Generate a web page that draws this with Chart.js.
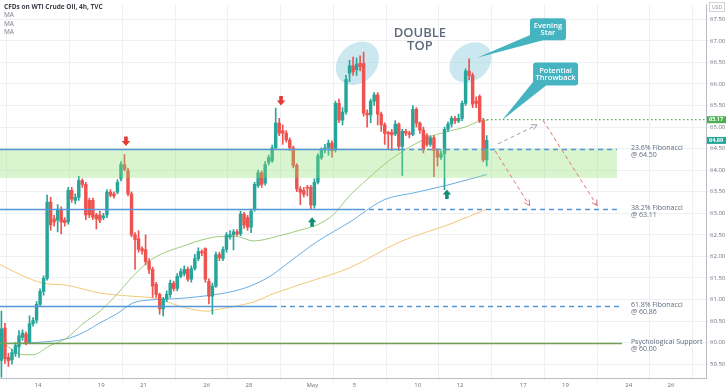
<!DOCTYPE html>
<html>
<head>
<meta charset="utf-8">
<script src="https://cdn.jsdelivr.net/npm/chart.js@4.4.0/dist/chart.umd.min.js"></script>
<style>
  html, body { margin: 0; padding: 0; background: #fff; }
  #wrap { width: 728px; height: 391px; }
</style>
</head>
<body>
<div id="wrap"><canvas id="chart" width="728" height="391"></canvas></div>
<script>
// ---- data (4h candles, WTI) ----
const opens = [
  59.59, 60.34, 59.66, 59.60, 59.75, 59.90, 60.12, 60.20, 60.02, 60.44,
  60.52, 60.89, 61.19, 61.49, 63.26, 62.87, 62.84, 63.07, 62.84, 62.80,
  63.53, 63.30, 63.37, 63.76, 63.67, 63.30, 63.30, 62.96, 62.96, 62.90,
  62.96, 63.49, 63.45, 63.49, 63.81, 64.13, 63.99, 63.45, 62.50, 62.41,
  62.18, 62.16, 61.88, 61.70, 61.35, 61.12, 60.78, 61.01, 61.12, 61.38,
  61.26, 61.54, 61.60, 61.70, 61.47, 61.72, 61.95, 62.11, 62.18, 61.42,
  61.08, 61.31, 62.04, 61.95, 62.16, 62.45, 62.50, 62.57, 62.52, 62.98,
  62.90, 62.68, 63.10, 63.64, 63.94, 63.70, 64.18, 64.22, 64.52, 65.09,
  64.91, 64.86, 64.70, 64.52, 64.11, 63.56, 63.53, 63.60, 63.60, 63.19,
  63.72, 64.29, 64.47, 64.52, 64.63, 64.47, 65.55, 65.16, 65.35, 66.25,
  66.42, 66.33, 66.48, 66.47, 65.32, 65.28, 65.60, 65.75, 65.30, 65.05,
  64.87, 64.88, 64.84, 65.07, 64.55, 64.90, 64.86, 64.83, 65.41, 65.09,
  64.93, 64.80, 64.60, 64.75, 64.45, 64.30, 64.38, 64.95, 65.07, 65.20,
  65.14, 65.20, 65.55, 66.30, 66.20, 65.60, 65.71, 65.14, 64.24
];
const highs = [
  60.73, 60.45, 59.75, 59.85, 60.00, 60.28, 60.30, 60.25, 60.62, 60.58,
  60.95, 61.25, 61.55, 63.42, 63.37, 62.95, 63.20, 63.15, 62.90, 63.60,
  63.60, 63.45, 63.86, 63.80, 63.72, 63.35, 63.35, 63.00, 63.05, 63.00,
  63.55, 63.55, 63.50, 63.78, 64.20, 64.36, 64.05, 63.50, 62.55, 62.60,
  62.22, 62.50, 61.95, 61.75, 61.40, 61.15, 61.05, 61.20, 61.45, 61.42,
  61.60, 61.72, 61.78, 61.75, 61.78, 62.05, 62.20, 62.15, 62.20, 61.48,
  61.38, 62.10, 62.10, 62.22, 62.55, 62.60, 62.62, 62.62, 63.05, 63.02,
  62.95, 63.10, 63.72, 64.00, 63.98, 64.20, 64.35, 64.58, 65.44, 65.20,
  65.05, 64.92, 64.75, 64.56, 64.15, 63.62, 63.60, 63.65, 63.65, 63.80,
  64.38, 64.52, 64.60, 64.70, 64.68, 65.60, 65.65, 65.45, 66.20, 66.55,
  66.62, 66.60, 66.65, 66.74, 65.40, 65.65, 65.80, 65.80, 65.35, 65.10,
  64.90, 64.95, 65.15, 65.10, 64.95, 64.95, 64.90, 65.50, 65.45, 65.12,
  65.00, 64.85, 64.80, 64.80, 64.50, 64.45, 65.00, 65.12, 65.25, 65.25,
  65.30, 65.60, 66.35, 66.58, 66.25, 65.70, 65.75, 65.20, 64.80
];
const lows = [
  59.20, 59.52, 59.45, 59.50, 59.68, 59.66, 60.05, 59.95, 59.98, 60.38,
  60.45, 60.85, 61.10, 61.45, 62.60, 62.70, 62.57, 62.52, 62.70, 62.75,
  63.25, 63.22, 63.30, 63.60, 62.85, 62.90, 62.85, 62.64, 62.78, 62.85,
  62.90, 63.38, 63.35, 63.45, 63.75, 63.98, 63.40, 62.45, 61.70, 62.10,
  62.05, 61.80, 61.60, 61.05, 61.05, 60.66, 60.62, 60.95, 61.05, 61.20,
  61.20, 61.50, 61.55, 61.42, 61.40, 61.68, 61.90, 62.02, 61.40, 60.90,
  60.66, 61.28, 61.90, 61.90, 62.10, 62.40, 62.15, 62.48, 62.48, 62.65,
  62.60, 62.55, 63.05, 63.60, 63.60, 63.65, 64.12, 64.18, 64.48, 64.80,
  64.60, 64.65, 64.45, 64.05, 63.50, 63.20, 63.38, 63.40, 63.10, 63.12,
  63.68, 64.25, 64.40, 64.35, 64.30, 64.42, 65.10, 65.05, 65.30, 66.05,
  66.20, 66.20, 66.30, 65.25, 65.00, 65.10, 65.50, 65.05, 64.90, 64.60,
  64.50, 64.45, 64.80, 64.45, 63.88, 64.80, 64.75, 64.80, 65.00, 64.85,
  64.40, 64.55, 64.55, 63.85, 64.10, 64.25, 63.55, 64.90, 65.00, 65.08,
  65.10, 65.15, 65.50, 66.10, 65.45, 65.45, 65.10, 64.20, 64.10
];
const closes = [
  60.32, 59.63, 59.58, 59.77, 59.93, 60.16, 60.22, 60.00, 60.44, 60.51,
  60.89, 61.19, 61.49, 63.26, 62.73, 62.80, 63.10, 62.80, 62.78, 63.53,
  63.33, 63.37, 63.76, 63.67, 62.96, 62.96, 62.91, 62.87, 62.84, 62.94,
  63.49, 63.42, 63.40, 63.72, 64.13, 64.02, 63.45, 62.50, 62.39, 62.16,
  62.13, 61.88, 61.70, 61.31, 61.12, 60.78, 61.01, 61.12, 61.38, 61.26,
  61.54, 61.65, 61.70, 61.47, 61.72, 61.95, 62.11, 62.08, 61.47, 61.08,
  61.31, 62.04, 61.97, 62.16, 62.50, 62.50, 62.57, 62.52, 62.98, 62.73,
  62.68, 63.05, 63.67, 63.94, 63.67, 64.13, 64.29, 64.52, 65.09, 64.86,
  64.86, 64.70, 64.52, 64.11, 63.56, 63.49, 63.44, 63.58, 63.19, 63.72,
  64.33, 64.47, 64.52, 64.63, 64.45, 65.55, 65.16, 65.35, 66.10, 66.42,
  66.28, 66.46, 66.40, 65.32, 65.28, 65.60, 65.75, 65.30, 65.05, 64.85,
  64.84, 64.82, 65.07, 64.55, 64.90, 64.86, 64.83, 65.41, 65.09, 64.93,
  64.47, 64.60, 64.75, 64.45, 64.30, 64.38, 64.95, 65.07, 65.20, 65.14,
  65.20, 65.55, 66.30, 66.20, 65.53, 65.55, 65.14, 64.24, 64.69
];

// trading-day axis: 0 = Apr 14, six 4h bars per day
const barsPerDay = 6;
const firstBarDay = -10.4 / barsPerDay;
const dayTicks = [0, 3, 5, 8, 10, 13, 15, 18, 20, 23, 25, 28, 30];
const dayLabels = ['14', '19', '21', '26', '28', 'May', '5', '10', '12', '17', '19', '24', '26'];

// moving averages (day, price)
const maFastDays = [-1.8, -0.71, -0.24, 0.57, 1.37, 2.13, 2.94, 3.74, 4.5, 5.45, 7.06, 7.82, 8.63, 9.43, 10.19, 11.61, 12.42, 13.22, 13.98, 14.79, 15.59, 16.35, 17.16, 17.96, 18.67, 19.53, 20.24, 20.95, 21.33];
const maFastValues = [60.05, 59.72, 59.72, 59.93, 60.11, 60.44, 60.73, 61.12, 61.54, 61.95, 62.27, 62.39, 62.46, 62.46, 62.36, 62.5, 62.61, 62.73, 62.96, 63.42, 63.78, 64.11, 64.4, 64.63, 64.79, 64.91, 65.0, 65.14, 65.16];
const maMidDays = [-1.8, -0.24, 1.37, 2.13, 2.94, 3.74, 4.5, 5.31, 6.87, 8.48, 9.24, 10.05, 11.0, 11.94, 13.22, 14.79, 16.35, 17.96, 19.38, 21.28];
const maMidValues = [59.98, 60.0, 60.09, 60.23, 60.46, 60.67, 60.92, 60.99, 61.03, 61.12, 61.19, 61.31, 61.54, 61.88, 62.34, 62.8, 63.3, 63.49, 63.65, 63.9];
const maSlowDays = [-1.8, -0.85, 0.24, 1.37, 2.94, 4.36, 5.5, 7.06, 8.0, 8.63, 10.19, 11.23, 12.89, 14.79, 17.16, 19.53, 21.28];
const maSlowValues = [61.81, 61.58, 61.38, 61.33, 61.15, 61.08, 61.03, 60.8, 60.73, 60.78, 60.94, 61.15, 61.42, 61.74, 62.34, 62.75, 63.1];

// levels
const levelPrices = [64.50, 63.11, 60.86, 60.00];
const levelNames = ['23.6% Fibonacci', '38.2% Fibonacci', '61.8% Fibonacci', 'Psychological Support'];
const zoneTop = 64.50;
const zoneBottom = 63.82;
const throwbackPrice = 65.17;
const lastPrice = 64.69;

const GREEN = '#26a69a';
const RED = '#ef5350';
const BLUE = '#5596d8';

const barDays = opens.map((_, i) => firstBarDay + i / barsPerDay);
const candleColors = opens.map((o, i) => (closes[i] >= o ? GREEN : RED));
const toPoints = (days, vals) => days.map((d, i) => ({ x: d, y: vals[i] }));

function arrowHead(ctx, x1, y1, x2, y2, len) {
  const a = Math.atan2(y2 - y1, x2 - x1);
  ctx.beginPath();
  ctx.moveTo(x2 - len * Math.cos(a - 0.5), y2 - len * Math.sin(a - 0.5));
  ctx.lineTo(x2, y2);
  ctx.lineTo(x2 - len * Math.cos(a + 0.5), y2 - len * Math.sin(a + 0.5));
  ctx.stroke();
}

function blockArrow(ctx, cx, tipY, dir, color) {
  // dir 1 = pointing down, -1 = pointing up
  ctx.fillStyle = color;
  ctx.beginPath();
  ctx.moveTo(cx, tipY);
  ctx.lineTo(cx - 4.2, tipY - dir * 5);
  ctx.lineTo(cx - 1.8, tipY - dir * 5);
  ctx.lineTo(cx - 1.8, tipY - dir * 9.5);
  ctx.lineTo(cx + 1.8, tipY - dir * 9.5);
  ctx.lineTo(cx + 1.8, tipY - dir * 5);
  ctx.lineTo(cx + 4.2, tipY - dir * 5);
  ctx.closePath();
  ctx.fill();
}

function callout(ctx, cx, cy, w, h, tipX, tipY, lines) {
  const l = cx - w / 2, t = cy - h / 2;
  ctx.fillStyle = '#46b3c0';
  ctx.beginPath();
  ctx.moveTo(l + 2, t + h - 6);
  ctx.lineTo(l + 13, t + h);
  ctx.lineTo(tipX, tipY);
  ctx.closePath();
  ctx.fill();
  ctx.beginPath();
  ctx.roundRect(l, t, w, h, 3);
  ctx.fill();
  ctx.fillStyle = '#ffffff';
  ctx.font = "600 7.5px 'Open Sans'";
  ctx.textAlign = 'center';
  ctx.textBaseline = 'middle';
  lines.forEach((s, k) => ctx.fillText(s, cx, cy + (k - (lines.length - 1) / 2) * 7));
}

const overlay = {
  id: 'overlay',
  beforeDatasetsDraw(chart) {
    const { ctx, scales: { x, y } } = chart;
    ctx.save();
    ctx.fillStyle = 'rgba(160,214,228,0.55)';
    [[15.14, 66.48, 24, 19, -0.8], [20.5, 66.5, 23, 18, -0.7]].forEach(([d, p, rx, ry, rot]) => {
      ctx.beginPath();
      ctx.ellipse(x.getPixelForValue(d), y.getPixelForValue(p), rx, ry, rot, 0, Math.PI * 2);
      ctx.fill();
    });
    ctx.restore();
  },
  afterDatasetsDraw(chart) {
    const { ctx, chartArea: area, scales: { x, y } } = chart;
    const px = (d) => x.getPixelForValue(d);
    const py = (p) => y.getPixelForValue(p);
    ctx.save();

    // support zone
    ctx.fillStyle = 'rgba(140,225,110,0.33)';
    ctx.fillRect(area.left, py(zoneTop), px(27.44) - area.left, py(zoneBottom) - py(zoneTop));

    // horizontal levels: solid then dashed
    const solidTo = [17.16, 15.26, 11.09, 27.68];
    const endAt = [27.44, 27.44, 27.58, 27.68];
    levelPrices.forEach((p, i) => {
      const yy = Math.round(py(p)) + 0.5;
      ctx.strokeStyle = i === 3 ? '#72a052' : BLUE;
      ctx.lineWidth = 1.3;
      ctx.setLineDash([]);
      ctx.beginPath();
      ctx.moveTo(area.left, yy);
      ctx.lineTo(px(solidTo[i]), yy);
      ctx.stroke();
      if (endAt[i] > solidTo[i]) {
        ctx.setLineDash([5, 4]);
        ctx.beginPath();
        ctx.moveTo(px(solidTo[i]), yy);
        ctx.lineTo(px(endAt[i]), yy);
        ctx.stroke();
      }
      ctx.setLineDash([]);
      ctx.fillStyle = '#5f6d7e';
      ctx.font = "7px 'Open Sans'";
      ctx.textAlign = 'left';
      ctx.textBaseline = 'middle';
      ctx.fillText(levelNames[i], px(28.1), yy - 2);
      ctx.fillText('@ ' + p.toFixed(2), px(28.1), yy + 5);
    });

    // throwback level
    ctx.strokeStyle = '#4caf50';
    ctx.lineWidth = 1.2;
    ctx.setLineDash([1.5, 2.5]);
    ctx.beginPath();
    ctx.moveTo(px(21.09), py(throwbackPrice));
    ctx.lineTo(area.right, py(throwbackPrice));
    ctx.stroke();

    // projected path
    ctx.lineWidth = 1;
    ctx.setLineDash([4, 3]);
    const paths = [
      ['#9aa0a6', 21.8, 64.61, 23.65, 65.05],
      ['#e57373', 21.66, 64.45, 23.3, 63.18],
      ['#e57373', 23.93, 65.16, 26.5, 63.18],
    ];
    paths.forEach(([c, d1, p1, d2, p2]) => {
      ctx.strokeStyle = c;
      ctx.beginPath();
      ctx.moveTo(px(d1), py(p1));
      ctx.lineTo(px(d2), py(p2));
      ctx.stroke();
    });
    ctx.setLineDash([]);
    paths.forEach(([c, d1, p1, d2, p2]) => {
      ctx.strokeStyle = c;
      arrowHead(ctx, px(d1), py(p1), px(d2), py(p2), 6);
    });

    // reversal arrows
    blockArrow(ctx, px(4.17), py(64.56), 1, '#e53935');
    blockArrow(ctx, px(11.52), py(65.5), 1, '#e53935');
    blockArrow(ctx, px(12.99), py(62.91), -1, '#148f77');
    blockArrow(ctx, px(19.38), py(63.55), -1, '#148f77');

    // pattern label
    ctx.fillStyle = '#5f6b7a';
    ctx.font = "600 13px 'Open Sans'";
    ctx.textAlign = 'center';
    ctx.textBaseline = 'middle';
    ctx.fillText('DOUBLE', px(18.1), py(67.18));
    ctx.fillText('TOP', px(18.1), py(66.88));

    callout(ctx, px(24.17), py(67.27), 36, 22, px(20.81), py(66.61), ['Evening', 'Star']);
    callout(ctx, px(24.53), py(66.23), 45, 23, px(21.99), py(65.16), ['Potential', 'Throwback']);
    ctx.restore();
  },
  afterDraw(chart) {
    const { ctx, chartArea: area, scales: { y } } = chart;
    ctx.save();
    // price tags on the axis
    [[throwbackPrice, '#4caf50'], [lastPrice, GREEN]].forEach(([p, c]) => {
      const yy = y.getPixelForValue(p);
      ctx.fillStyle = c;
      ctx.fillRect(area.right + 1, yy - 3.5, 19, 7);
      ctx.fillStyle = '#ffffff';
      ctx.font = "bold 5.5px 'Open Sans'";
      ctx.textAlign = 'left';
      ctx.textBaseline = 'middle';
      ctx.fillText(p.toFixed(2), area.right + 3, yy);
    });
    // currency box
    ctx.strokeStyle = '#d0d3d8';
    ctx.lineWidth = 1;
    ctx.strokeRect(area.right + 3.5, 2.5, 15, 9);
    ctx.fillStyle = '#8a8e96';
    ctx.font = "5px 'Open Sans'";
    ctx.textAlign = 'center';
    ctx.fillText('USD', area.right + 11, 7.5);
    // title block
    ctx.textAlign = 'left';
    ctx.textBaseline = 'middle';
    ctx.fillStyle = '#3c4048';
    ctx.font = "bold 6.5px 'Open Sans'";
    ctx.fillText('CFDs on WTI Crude Oil, 4h, TVC', 4, 7.5);
    ctx.fillStyle = '#7d818a';
    ctx.font = "6.5px 'Open Sans'";
    ['MA', 'MA', 'MA'].forEach((s, k) => ctx.fillText(s, 4, 15.5 + k * 8.2));
    ctx.restore();
  }
};

new Chart(document.getElementById('chart'), {
  type: 'bar',
  data: {
    datasets: [
      {
        label: 'bodies',
        data: barDays.map((d, i) => ({ x: d, y: [opens[i], closes[i]] })),
        backgroundColor: candleColors,
        barThickness: 2.8,
        minBarLength: 1,
        grouped: false,
        order: 0
      },
      {
        label: 'wicks',
        data: barDays.map((d, i) => ({ x: d, y: [lows[i], highs[i]] })),
        backgroundColor: candleColors,
        barThickness: 1,
        grouped: false,
        order: 1
      },
      {
        type: 'line',
        label: 'MA fast',
        data: toPoints(maFastDays, maFastValues),
        borderColor: '#9fcb7c',
        borderWidth: 1,
        pointRadius: 0,
        cubicInterpolationMode: 'monotone',
        order: 2
      },
      {
        type: 'line',
        label: 'MA mid',
        data: toPoints(maMidDays, maMidValues),
        borderColor: '#6aaee0',
        borderWidth: 1,
        pointRadius: 0,
        cubicInterpolationMode: 'monotone',
        order: 3
      },
      {
        type: 'line',
        label: 'MA slow',
        data: toPoints(maSlowDays, maSlowValues),
        borderColor: '#f3c878',
        borderWidth: 1,
        pointRadius: 0,
        cubicInterpolationMode: 'monotone',
        order: 4
      }
    ]
  },
  options: {
    responsive: false,
    animation: false,
    devicePixelRatio: 1,
    events: [],
    layout: { padding: 0, autoPadding: false },
    plugins: { legend: { display: false }, tooltip: { enabled: false } },
    scales: {
      x: {
        type: 'linear',
        min: -1.8,
        max: 31.66,
        offset: false,
        grid: { color: '#eef0f4', tickLength: 3 },
        border: { color: '#b8bcc4' },
        ticks: {
          autoSkip: false,
          maxRotation: 0,
          padding: 1,
          color: '#6e7178',
          font: { size: 6, family: "'Open Sans'" },
          callback: (v) => dayLabels[dayTicks.indexOf(v)]
        },
        afterBuildTicks: (axis) => { axis.ticks = dayTicks.map((v) => ({ value: v })); },
        afterFit: (axis) => { axis.height = 13; }
      },
      y: {
        type: 'linear',
        position: 'right',
        min: 59.18,
        max: 67.84,
        grid: { color: '#eef0f4', tickLength: 3 },
        border: { color: '#b8bcc4' },
        ticks: {
          stepSize: 0.5,
          includeBounds: false,
          padding: 1,
          color: '#6e7178',
          font: { size: 6, family: "'Open Sans'" },
          callback: (v) => v.toFixed(2)
        },
        afterFit: (axis) => { axis.width = 22; }
      }
    }
  },
  plugins: [overlay]
});
</script>
</body>
</html>
